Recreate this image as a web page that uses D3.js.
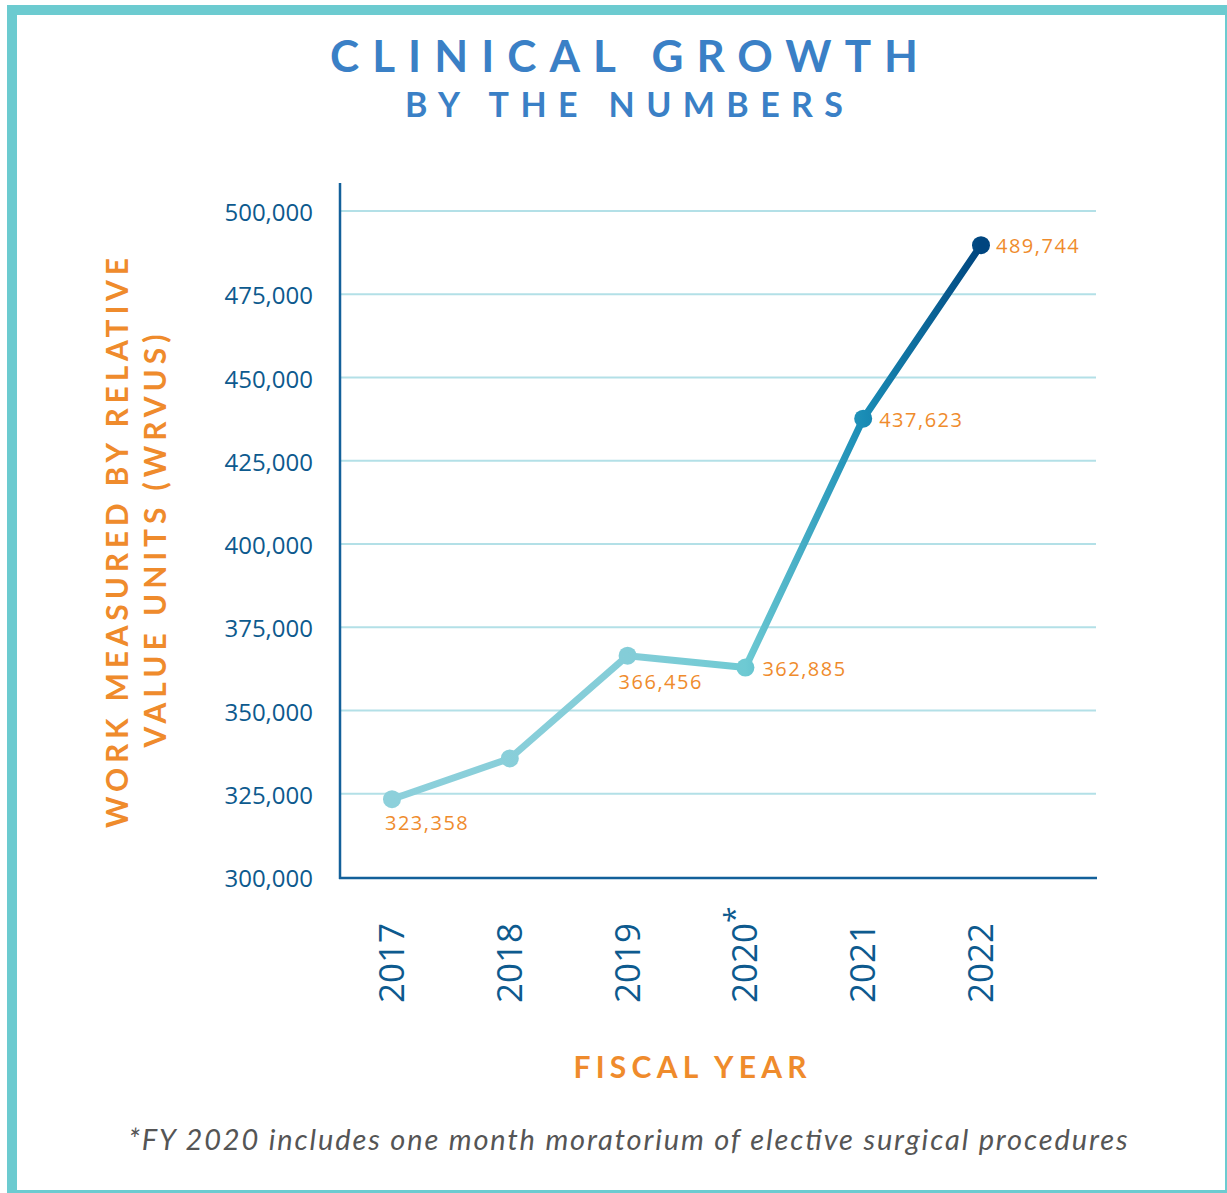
<!DOCTYPE html>
<html><head><meta charset="utf-8">
<script src="https://cdn.jsdelivr.net/npm/d3@7/dist/d3.min.js"></script>
<style>body{margin:0;background:#fff}svg{display:block}</style>
</head><body>
<svg id="c" width="1227" height="1193"></svg>
<script>
const years = ["2017","2018","2019","2020*","2021","2022"];
const values = [323358, 335600, 366456, 362885, 437623, 489744];
const valueLabels = ["323,358", null, "366,456", "362,885", "437,623", "489,744"];
const yTicks = [300000,325000,350000,375000,400000,425000,450000,475000,500000];

const svg = d3.select("#c");
const orange = "#ef8b2c", dark = "#0d5a8e";

// frame
svg.append("rect").attr("x",12).attr("y",10).attr("width",1218).attr("height",1185)
  .attr("fill","none").attr("stroke","#6ccbd0").attr("stroke-width",10);

// title
svg.append("text").attr("x",624).attr("y",72).attr("text-anchor","middle")
  .attr("font-family","Lato").attr("font-weight",700).attr("font-size",44).attr("fill","#3a80c6")
  .attr("textLength",588).attr("lengthAdjust","spacing").text("CLINICAL GROWTH");
svg.append("text").attr("x",624).attr("y",117).attr("text-anchor","middle")
  .attr("font-family","Lato").attr("font-weight",700).attr("font-size",34).attr("fill","#3a80c6")
  .attr("textLength",438).attr("lengthAdjust","spacing").text("BY THE NUMBERS");

const x = d3.scalePoint().domain(years).range([392, 981]);
const y = d3.scaleLinear().domain([300000, 500000]).range([877, 211]);

// grid
svg.append("g").selectAll("line").data(yTicks.slice(1)).join("line")
  .attr("x1",340).attr("x2",1096).attr("y1",d=>y(d)).attr("y2",d=>y(d))
  .attr("stroke","#b3e0e7").attr("stroke-width",2);

// y axis
const ya = svg.append("g").attr("transform","translate(340,0)")
  .call(d3.axisLeft(y).tickValues(yTicks).tickSize(0).tickPadding(27).tickFormat(d3.format(",")));
ya.select(".domain").remove();
ya.selectAll("text").attr("font-family","Open Sans").attr("font-size",24).attr("fill",dark).attr("font-weight",400).attr("dy","0.4em");
svg.append("line").attr("x1",340).attr("x2",340).attr("y1",183).attr("y2",879).attr("stroke","#13609a").attr("stroke-width",2.5);
svg.append("line").attr("x1",339).attr("x2",1097).attr("y1",878).attr("y2",878).attr("stroke","#13609a").attr("stroke-width",2.5);

// x labels
svg.append("g").selectAll("text").data(years).join("text")
  .attr("transform",d=>`translate(${x(d)+12},1003) rotate(-90)`)
  .attr("font-family","Open Sans").attr("font-weight",400).attr("font-size",35).attr("fill",dark)
  .text(d=>d.replace("*","")).append("tspan").attr("font-size",30).attr("dy",-12)
  .text(d=>d.includes("*")?"*":"");

// gradient
const defs = svg.append("defs");
const g = defs.append("linearGradient").attr("id","lg").attr("gradientUnits","userSpaceOnUse")
  .attr("x1",x("2017")).attr("x2",x("2022")).attr("y1",0).attr("y2",0);
const span = x("2022")-x("2017");
const stops = [[x("2017"),"#8dd0db"],[x("2019"),"#84cdd8"],[x("2020*"),"#6ecad3"],[x("2021"),"#1a8db6"],[x("2022"),"#00457f"]];
stops.forEach(s=>g.append("stop").attr("offset",(s[0]-x("2017"))/span).attr("stop-color",s[1]));

const pts = years.map((d,i)=>[x(d), y(values[i])]);
svg.append("path").attr("d", d3.line()(pts)).attr("fill","none")
  .attr("stroke","url(#lg)").attr("stroke-width",7).attr("stroke-linejoin","round");
svg.append("g").selectAll("circle").data(pts).join("circle")
  .attr("cx",d=>d[0]).attr("cy",d=>d[1]).attr("r",9).attr("fill","url(#lg)");

// value labels
const lblOff = [[-7,31],null,[-9,33],[17,8],[16,8],[15,8]];
const idx = years.map((d,i)=>i).filter(i=>valueLabels[i]!==null);
svg.append("g").selectAll("text").data(idx).join("text")
  .attr("x",i=>pts[i][0]+lblOff[i][0]).attr("y",i=>pts[i][1]+lblOff[i][1])
  .attr("font-family","Open Sans").attr("font-size",20).attr("fill",orange).attr("letter-spacing",1.5)
  .text(i=>valueLabels[i]);

// axis titles
svg.append("text").attr("x",690).attr("y",1078).attr("text-anchor","middle")
  .attr("font-family","Lato").attr("font-weight",700).attr("font-size",30).attr("fill",orange)
  .attr("textLength",233).attr("lengthAdjust","spacing").text("FISCAL YEAR");
svg.append("text").attr("transform","translate(128,543) rotate(-90)").attr("text-anchor","middle")
  .attr("font-family","Lato").attr("font-weight",700).attr("font-size",30).attr("fill",orange)
  .attr("textLength",570).attr("lengthAdjust","spacing").text("WORK MEASURED BY RELATIVE");
svg.append("text").attr("transform","translate(166,541) rotate(-90)").attr("text-anchor","middle")
  .attr("font-family","Lato").attr("font-weight",700).attr("font-size",30).attr("fill",orange)
  .attr("textLength",413).attr("lengthAdjust","spacing").text("VALUE UNITS (WRVUS)");

// footnote
svg.append("text").attr("x",628).attr("y",1150).attr("text-anchor","middle")
  .attr("font-family","Lato").attr("font-style","italic").attr("font-size",29).attr("fill","#555")
  .attr("textLength",999).attr("lengthAdjust","spacing")
  .text("*FY 2020 includes one month moratorium of elective surgical procedures");
</script>
</body></html>
